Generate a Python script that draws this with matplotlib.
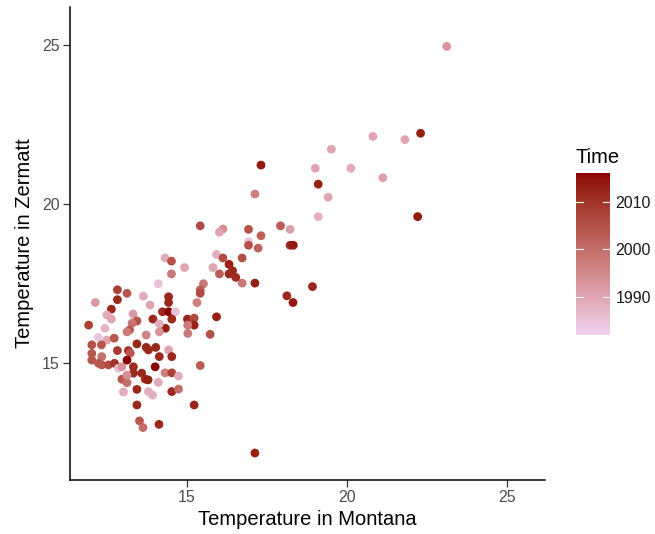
import numpy as np
import matplotlib
matplotlib.use("Agg")
import matplotlib.pyplot as plt
from matplotlib.colors import ListedColormap, Normalize, to_rgb

plt.rcParams['font.family'] = ['Liberation Sans', 'DejaVu Sans']

# temperature in Montana, temperature in Zermatt, year
montana = [23.12, 22.30, 20.81, 21.81, 19.51, 17.31, 19.01, 20.12, 21.12, 19.10,
           17.12, 19.41, 22.21, 19.10, 16.92, 17.92, 18.22, 17.31, 16.92, 16.92,
           17.22, 18.22, 18.32, 16.72, 16.72, 17.12, 18.92, 18.12, 18.31,
           15.41, 16.12, 16.01, 14.31, 14.51, 14.92, 14.51, 15.92, 16.12, 16.31,
           16.42, 16.31, 16.52, 15.81, 16.01, 15.51, 15.41, 15.41, 15.31, 14.10,
           14.42, 14.42, 14.23, 14.42, 14.63, 13.84, 15.92, 15.01, 15.22, 15.22,
           15.02, 15.02, 15.72,
           12.82, 13.12, 12.82, 12.13, 13.63, 12.63, 12.49, 12.63, 13.31, 13.43,
           13.28, 13.20, 13.12, 13.93, 14.52, 14.32, 14.13, 14.13, 13.72, 12.43,
           11.92, 12.22, 12.49, 12.72, 12.02, 12.32, 12.82, 13.43, 13.72, 14.02,
           14.42, 14.52, 13.16, 13.22, 12.02, 12.02, 12.33, 15.41, 12.23, 12.33,
           12.54, 12.73, 12.85, 12.96, 13.12, 13.32, 13.32, 13.58, 13.69, 13.78,
           14.00, 12.96, 13.12, 13.12, 13.01, 13.43, 13.79, 13.92, 14.10, 14.31,
           14.52, 14.73, 14.52, 14.73, 13.43, 15.22, 13.51, 13.62, 14.12, 17.12,
           14.13, 13.79]
zermatt = [24.95, 22.22, 22.12, 22.02, 21.72, 21.22, 21.12, 21.12, 20.82, 20.62,
           20.31, 20.21, 19.60, 19.60, 19.20, 19.31, 19.20, 19.00, 18.81, 18.70,
           18.61, 18.70, 18.70, 18.30, 17.51, 17.51, 17.40, 17.11, 16.90,
           19.31, 19.21, 19.11, 18.30, 18.20, 18.00, 17.80, 18.41, 18.30, 18.10,
           17.90, 17.80, 17.69, 18.00, 17.80, 17.49, 17.30, 17.19, 16.90, 17.49,
           17.08, 16.90, 16.61, 16.61, 16.61, 16.82, 16.45, 16.38, 16.41, 16.19,
           16.19, 15.93, 15.90,
           17.30, 17.19, 16.99, 16.90, 17.10, 16.69, 16.51, 16.38, 16.54, 16.32,
           16.25, 16.04, 15.98, 16.38, 16.38, 16.09, 16.23, 15.98, 15.88, 16.09,
           16.19, 15.81, 15.72, 15.78, 15.57, 15.57, 15.39, 15.60, 15.49, 15.49,
           15.41, 15.20, 15.39, 15.31, 15.30, 15.09, 15.20, 14.92, 14.99, 14.94,
           14.94, 14.99, 14.83, 14.88, 15.09, 14.88, 14.68, 14.68, 14.49, 14.47,
           14.88, 14.49, 14.38, 14.62, 14.09, 14.17, 14.10, 13.99, 14.39, 14.69,
           14.69, 14.59, 14.10, 14.18, 13.68, 13.68, 13.18, 12.97, 13.07, 12.17,
           15.20, 15.41]
year = [1993, 2013, 1990, 1990, 1990, 2014, 1990, 1989, 1991, 2013,
        1997, 1990, 2014, 1988, 2005, 2003, 1991, 2002, 1985, 2005,
        2002, 2012, 2014, 2005, 1998, 2013, 2012, 2012, 2014,
        2006, 1994, 1990, 1989, 2005, 1990, 1998, 1988, 2006, 2013,
        2012, 2012, 2011, 1990, 2003, 1998, 2003, 2006, 1997, 1985,
        2012, 2012, 2012, 2016, 1985, 1990, 2013, 2012, 2006, 2013,
        1998, 1998, 2005,
        2008, 2004, 2012, 1992, 1989, 2012, 1989, 1990, 1992, 2005,
        1999, 2004, 1998, 2012, 2012, 2013, 1988, 1993, 1996, 1987,
        2008, 1984, 1990, 2004, 2005, 2004, 2009, 2012, 2012, 2012,
        1990, 2012, 2010, 2004, 2004, 2004, 2000, 2003, 2004, 2004,
        2006, 2010, 1985, 1993, 2016, 2011, 2012, 2012, 2012, 2013,
        2016, 2004, 2000, 1994, 1989, 2012, 1988, 1988, 1989, 1997,
        2008, 1989, 2012, 2000, 2012, 2012, 2004, 2000, 2012, 2013,
        2012, 2012]


# ggplot-like gradient (interpolated in Lab) from thistle2 to darkred
def rgb_to_lab(c):
    c = np.array(c)
    c = np.where(c > 0.04045, ((c + 0.055) / 1.055) ** 2.4, c / 12.92)
    m = np.array([[0.4124, 0.3576, 0.1805],
                  [0.2126, 0.7152, 0.0722],
                  [0.0193, 0.1192, 0.9505]])
    xyz = m @ c / np.array([0.95047, 1.0, 1.08883])
    f = np.where(xyz > 0.008856, np.cbrt(xyz), 7.787 * xyz + 16 / 116)
    return np.array([116 * f[1] - 16, 500 * (f[0] - f[1]), 200 * (f[1] - f[2])])


def lab_to_rgb(lab):
    fy = (lab[0] + 16) / 116
    fx = fy + lab[1] / 500
    fz = fy - lab[2] / 200
    f = np.array([fx, fy, fz])
    xyz = np.where(f ** 3 > 0.008856, f ** 3, (f - 16 / 116) / 7.787)
    xyz = xyz * np.array([0.95047, 1.0, 1.08883])
    m = np.array([[3.2406, -1.5372, -0.4986],
                  [-0.9689, 1.8758, 0.0415],
                  [0.0557, -0.2040, 1.0570]])
    c = m @ xyz
    c = np.where(c > 0.0031308, 1.055 * np.clip(c, 0, None) ** (1 / 2.4) - 0.055, 12.92 * c)
    return np.clip(c, 0, 1)


lo = rgb_to_lab(to_rgb("#EED2EE"))
hi = rgb_to_lab(to_rgb("#8B0000"))
cmap = ListedColormap([lab_to_rgb(lo + (hi - lo) * t) for t in np.linspace(0, 1, 256)])
norm = Normalize(vmin=1982, vmax=2016)

fig = plt.figure(figsize=(6.55, 5.34), dpi=100)
ax = fig.add_axes([0.107, 0.101, 0.725, 0.886])
ax.scatter(montana, zermatt, c=year, cmap=cmap, norm=norm, s=40, linewidths=0)

ax.set_xlim(11.34, 26.19)
ax.set_ylim(11.32, 26.19)
ax.set_xticks([15, 20, 25])
ax.set_yticks([15, 20, 25])
for s in ["top", "right"]:
    ax.spines[s].set_visible(False)
for s in ["left", "bottom"]:
    ax.spines[s].set_linewidth(1.1)
ax.tick_params(length=5, width=0.9, color="#333333", labelsize=11.5, labelcolor="#4d4d4d", pad=2.5)
ax.set_xlabel("Temperature in Montana", fontsize=14.5, labelpad=3)
ax.set_ylabel("Temperature in Zermatt", fontsize=14.5, labelpad=6)

# colour bar
cax = fig.add_axes([0.879, 0.373, 0.052, 0.303])
sm = plt.cm.ScalarMappable(norm=norm, cmap=cmap)
cb = fig.colorbar(sm, cax=cax, ticks=[1990, 2000, 2010])
cb.outline.set_visible(False)
cax.tick_params(length=0, labelsize=11.5, labelcolor="#1a1a1a", pad=4)
for t in [1990, 2000, 2010]:
    cax.plot([0, 0.2], [t, t], color="white", lw=0.8, transform=cax.get_yaxis_transform())
    cax.plot([0.8, 1], [t, t], color="white", lw=0.8, transform=cax.get_yaxis_transform())
fig.text(0.879, 0.688, "Time", fontsize=14.5, ha="left", va="bottom")

fig.savefig("out.png", dpi=100)
